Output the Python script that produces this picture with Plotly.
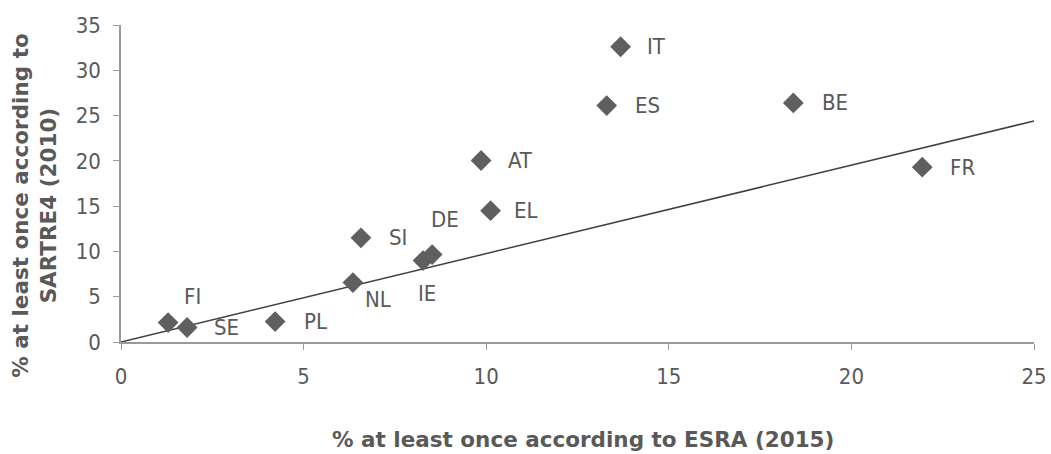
import plotly.graph_objects as go

countries = ["FI", "SE", "PL", "NL", "IE", "DE", "SI", "AT", "EL", "ES", "IT", "BE", "FR"]
esra_2015 = [1.29, 1.81, 4.22, 6.35, 8.27, 8.52, 6.57, 9.86, 10.12, 13.3, 13.68, 18.41, 21.94]
sartre_2010 = [2.15, 1.6, 2.26, 6.56, 8.99, 9.65, 11.5, 20.04, 14.5, 26.1, 32.6, 26.4, 19.3]
trend_x = [0, 25]
trend_y = [0, 24.4]
x_ticks = [0, 5, 10, 15, 20, 25]
y_ticks = [0, 5, 10, 15, 20, 25, 30, 35]

# label offsets (pixels) – styling only
label_offsets = {
    "FI": (14, 26), "SE": (25, 0), "PL": (27, 0), "NL": (10, -17),
    "IE": (-7, -33), "DE": (-3, 35), "SI": (26, 0), "AT": (25, 0),
    "EL": (21, 0), "ES": (26, 0), "IT": (24, 0), "BE": (27, 0), "FR": (26, 0),
}

grey = "#595959"
font = "DejaVu Sans Condensed, Liberation Sans, sans-serif"
title_font = "DejaVu Sans, Verdana, sans-serif"

fig = go.Figure()
fig.add_trace(go.Scatter(x=trend_x, y=trend_y, mode="lines",
                         line=dict(color="#404040", width=1.5), showlegend=False,
                         hoverinfo="skip"))
fig.add_trace(go.Scatter(x=esra_2015, y=sartre_2010, mode="markers",
                         marker=dict(symbol="diamond", size=16, color="#5f5f5f"),
                         showlegend=False, text=countries))

for c, xv, yv in zip(countries, esra_2015, sartre_2010):
    dx, dy = label_offsets[c]
    fig.add_annotation(x=xv, y=yv, text=c, showarrow=False, xanchor="left",
                       yanchor="middle", xshift=dx, yshift=dy,
                       font=dict(family=font, size=22, color=grey))

fig.add_annotation(xref="paper", yref="paper", x=0.506, y=-0.307,
                   text="<b>% at least once according to ESRA (2015)</b>",
                   showarrow=False, xanchor="center", yanchor="middle",
                   font=dict(family=title_font, size=21.5, color=grey))
fig.add_annotation(xref="paper", yref="paper", x=-0.094, y=0.43,
                   text="<b>% at least once according to<br>SARTRE4 (2010)</b>",
                   showarrow=False, xanchor="center", yanchor="middle", textangle=-90,
                   font=dict(family=title_font, size=21.5, color=grey))

fig.update_xaxes(range=[0, 25], tickvals=x_ticks, showgrid=False, zeroline=False,
                 showline=True, linecolor="#9a9a9a", linewidth=1.5,
                 ticks="outside", ticklen=6, tickcolor="#9a9a9a",
                 ticklabelstandoff=8, automargin=False,
                 tickfont=dict(family=font, size=22, color=grey))
fig.update_yaxes(range=[0, 35], tickvals=y_ticks, showgrid=False, zeroline=False,
                 showline=True, linecolor="#9a9a9a", linewidth=1.5,
                 ticks="outside", ticklen=6, tickcolor="#9a9a9a",
                 ticklabelstandoff=8, automargin=False,
                 tickfont=dict(family=font, size=22, color=grey))

fig.update_layout(width=1051, height=454, plot_bgcolor="white", paper_bgcolor="white",
                  margin=dict(l=121, r=17, t=25, b=111.5), showlegend=False)

fig.write_html("out.html", config={"displayModeBar": False},
               post_script="document.body.style.margin='0';")
